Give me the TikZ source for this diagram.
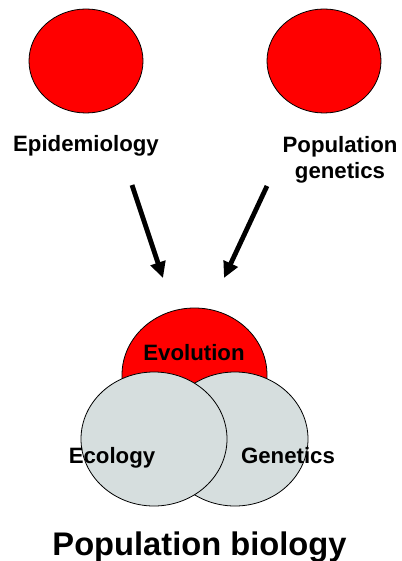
\documentclass[tikz,border=0pt]{standalone}
\usepackage{fontspec}
\setmainfont{Liberation Sans}
\usetikzlibrary{shapes.geometric,arrows.meta}
\definecolor{vred}{RGB}{255,0,0}
\definecolor{vgray}{RGB}{214,222,222}
\tikzset{
  blob/.style={ellipse, draw=black, line width=0.8bp, inner sep=0pt},
  lbl/.style={font=\bfseries\fontsize{22.3}{27}\selectfont, anchor=base, inner sep=0pt, align=center},
  biglbl/.style={font=\bfseries\fontsize{32.8}{36}\selectfont, anchor=base, inner sep=0pt},
  arr/.style={line width=4.8bp, -{Triangle[length=16bp,width=15bp]}}
}
\begin{document}
\begin{tikzpicture}[x=1bp,y=-1bp]
\useasboundingbox (0,0) rectangle (401,561);
% top circles
\node[blob, fill=vred, minimum width=114bp, minimum height=104bp] (epi) at (86,61) {};
\node[blob, fill=vred, minimum width=114bp, minimum height=104bp] (popgen) at (324,61) {};
\node[lbl] (epiL) at (86,152) {Epidemiology};
\node[lbl] (popgenL) at (340,179) {Population\\genetics};
% arrows
\coordinate (a1s) at (132,185);
\coordinate (a1e) at (163,278);
\coordinate (a2s) at (267,186);
\coordinate (a2e) at (224,278);
\draw[arr] (a1s) -- (a1e);
\draw[arr] (a2s) -- (a2e);
% Venn
\node[blob, fill=vred, minimum width=145bp, minimum height=134bp] (evo) at (194.5,375) {};
\node[blob, fill=vgray, minimum width=146bp, minimum height=134bp] (gen) at (235,439) {};
\node[blob, fill=vgray, minimum width=146bp, minimum height=134bp] (eco) at (154,439) {};
\node[lbl] (evoL) at (194,360) {Evolution};
\node[lbl] (ecoL) at (112,463) {Ecology};
\node[lbl] (genL) at (288,463) {Genetics};
\node[biglbl] (title) at (199.5,555) {Population biology};
\end{tikzpicture}
\end{document}
